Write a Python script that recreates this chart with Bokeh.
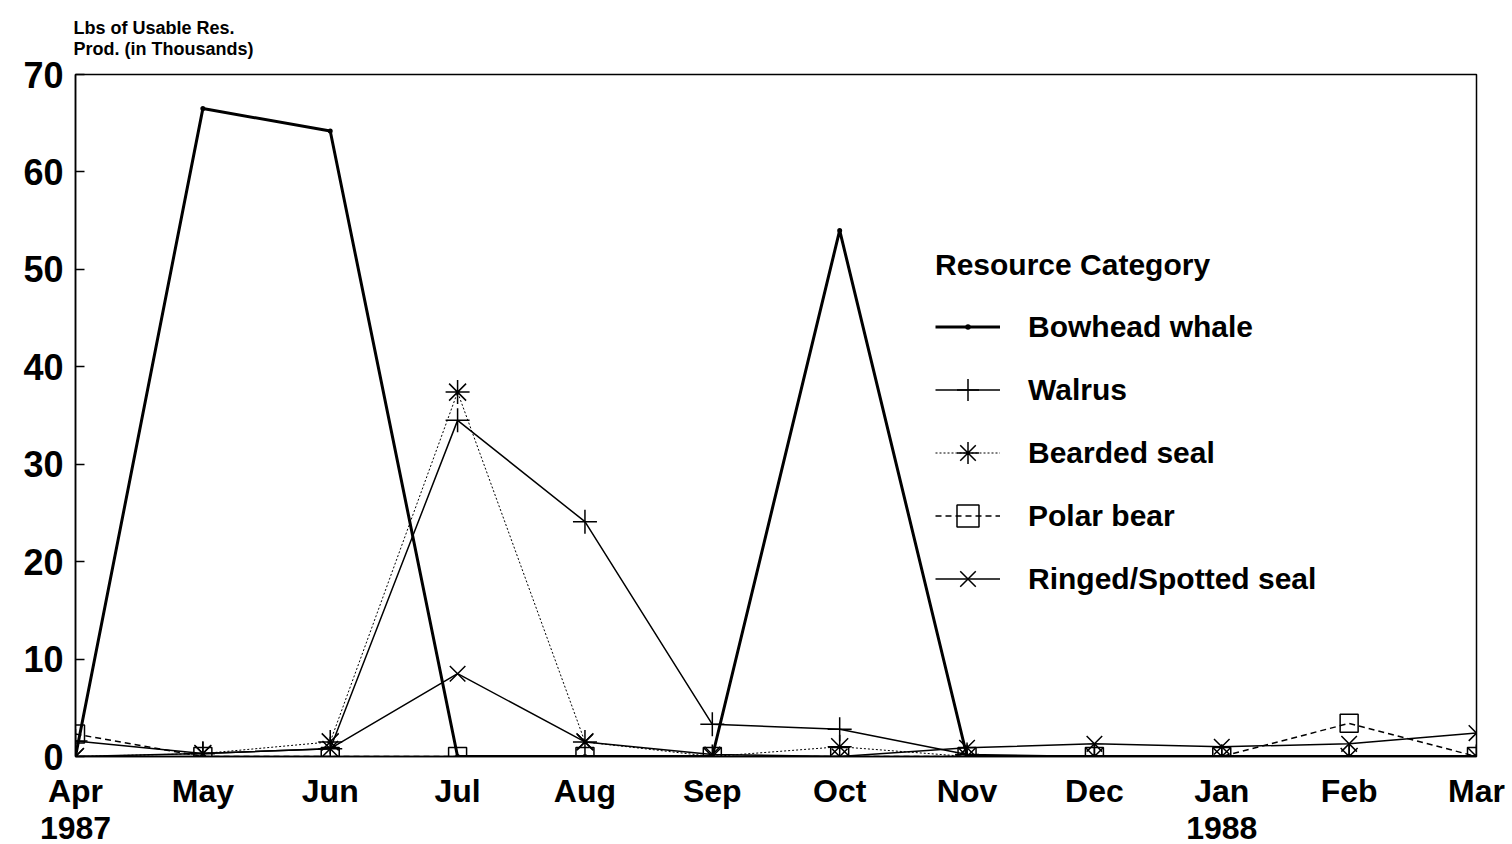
from bokeh.plotting import figure
from bokeh.models import Legend, LegendItem, FixedTicker, Range1d
from bokeh.embed import file_html
from bokeh.resources import INLINE

months = ["Apr", "May", "Jun", "Jul", "Aug", "Sep", "Oct", "Nov", "Dec", "Jan", "Feb", "Mar"]
year_labels = {0: "1987", 9: "1988"}
bowhead = [0, 66.5, 64.2, 0, 0, 0, 54.0, 0, 0, 0, 0, 0]
walrus = [1.6, 0.3, 0.8, 34.5, 24.1, 3.3, 2.8, 0.2, 0, 0, 0, 0]
bearded = [0, 0.3, 1.5, 37.4, 1.5, 0, 1.0, 0, 0, 0, 0, 0]
polar = [2.3, 0, 0, 0, 0, 0, 0, 0, 0, 0, 3.4, 0]
ringed = [0, 0.3, 0.8, 8.5, 1.5, 0.2, 0, 0.9, 1.3, 1.0, 1.3, 2.4]
y_ticks = [0, 10, 20, 30, 40, 50, 60, 70]

FONT = "Liberation Sans"
xs = list(range(len(months)))

p = figure(frame_width=1401, frame_height=682, output_backend="svg", toolbar_location=None,
           x_range=Range1d(0, len(months) - 1), y_range=Range1d(0, 70),
           min_border_left=75, min_border_right=36, min_border_top=73, min_border_bottom=0)
p.background_fill_color = "white"
p.border_fill_color = "white"
p.outline_line_color = "black"
p.outline_line_width = 1.5
p.grid.visible = False

# title (y-axis description) above the plot
p.title.text = "Lbs of Usable Res.\nProd. (in Thousands)"
p.title.text_font = FONT
p.title.text_font_style = "bold"
p.title.text_font_size = "18px"
p.title.text_line_height = 1.05
p.title.align = "left"
p.title.offset = -2
p.title.standoff = 31
p.title.text_color = "black"

# axes
p.xaxis.ticker = FixedTicker(ticks=xs)
overrides = {}
for i, m in enumerate(months):
    overrides[i] = m + ("\n" + year_labels[i] if i in year_labels else "")
p.xaxis.major_label_overrides = overrides
p.yaxis.ticker = FixedTicker(ticks=y_ticks)
for ax in (p.xaxis[0], p.yaxis[0]):
    ax.axis_line_color = "black"
    ax.axis_line_width = 1.5
    ax.major_tick_out = 0
    ax.minor_tick_line_color = None
    ax.major_label_text_font = FONT
    ax.major_label_text_font_style = "bold"
    ax.major_label_text_color = "black"
p.yaxis.major_tick_in = 9
p.yaxis.major_tick_line_width = 1.5
p.xaxis.major_tick_in = 0
p.xaxis.major_tick_line_color = None
p.yaxis.major_label_text_font_size = "36px"
p.yaxis.major_label_standoff = 12
p.xaxis.major_label_text_font_size = "32px"
p.xaxis.major_label_text_line_height = 1.05
p.xaxis.major_label_standoff = 16

# series
r_bw_l = p.line(xs, bowhead, line_color="black", line_width=3)
r_bw_m = p.scatter(xs, bowhead, marker="dot", size=20, fill_color="black", line_color="black")
r_wa_l = p.line(xs, walrus, line_color="black", line_width=1.5)
r_wa_m = p.scatter(xs, walrus, marker="cross", size=24, line_color="black", line_width=1.5)
r_be_l = p.line(xs, bearded, line_color="black", line_width=1, line_dash="2 2")
r_be_m = p.scatter(xs, bearded, marker="asterisk", size=24, line_color="black", line_width=1.5)
r_po_l = p.line(xs, polar, line_color="black", line_width=1.5, line_dash="6 4")
r_po_m = p.scatter(xs, polar, marker="square", size=18, fill_color=None, line_color="black", line_width=1.5)
r_ri_l = p.line(xs, ringed, line_color="black", line_width=1.5)
r_ri_m = p.scatter(xs, ringed, marker="x", size=22, line_color="black", line_width=1.5)

legend = Legend(items=[
    LegendItem(label="Bowhead whale", renderers=[r_bw_l, r_bw_m]),
    LegendItem(label="Walrus", renderers=[r_wa_l, r_wa_m]),
    LegendItem(label="Bearded seal", renderers=[r_be_l, r_be_m]),
    LegendItem(label="Polar bear", renderers=[r_po_l, r_po_m]),
    LegendItem(label="Ringed/Spotted seal", renderers=[r_ri_l, r_ri_m]),
], location=(860, 150))
legend.title = "Resource Category"
legend.title_text_font = FONT
legend.title_text_font_style = "bold"
legend.title_text_font_size = "30px"
legend.title_text_color = "black"
legend.title_standoff = 17
legend.label_text_font = FONT
legend.label_text_font_style = "bold"
legend.label_text_font_size = "30px"
legend.label_text_color = "black"
legend.glyph_width = 65
legend.glyph_height = 55
legend.label_height = 30
legend.label_standoff = 28
legend.spacing = 8
legend.padding = 0
legend.margin = 0
legend.border_line_color = None
legend.background_fill_alpha = 0
p.add_layout(legend, "center")

open("out.html", "w").write(file_html(p, INLINE))
